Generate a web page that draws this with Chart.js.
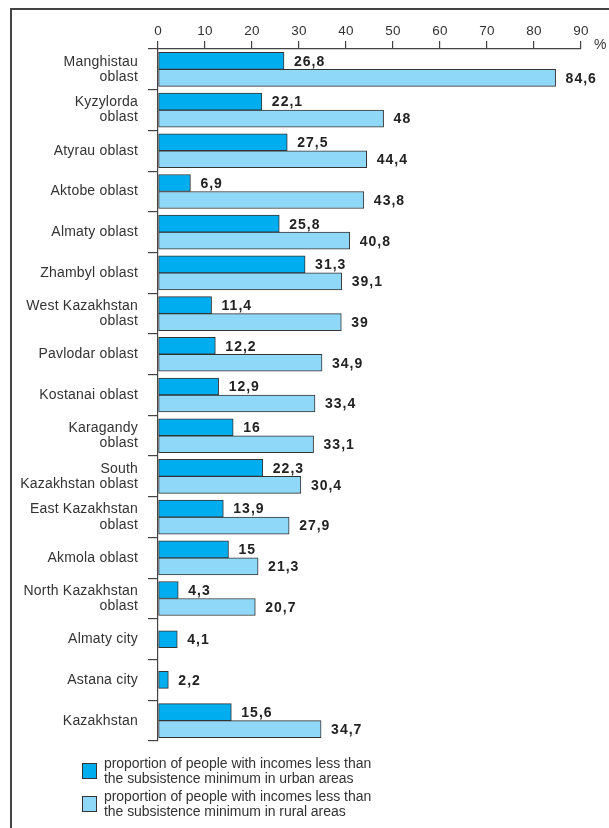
<!DOCTYPE html>
<html>
<head>
<meta charset="utf-8">
<script src="https://cdn.jsdelivr.net/npm/chart.js@4"></script>
<style>
  body { margin: 0; background: #fff; font-family: "Liberation Sans", Arial, sans-serif; }
  #wrap { position: relative; width: 609px; height: 828px; overflow: hidden; }
  #frame { position: absolute; left: 10px; top: 8px; width: 620px; height: 840px;
           border-top: 2px solid #444; border-left: 2px solid #444; }
  canvas { position: absolute; left: 0; top: 0; }
  .leg { position: absolute; left: 82px; font-size: 14px; line-height: 15px; color: #333; letter-spacing: -0.05px; }
  .leg .box { position: absolute; left: 0; width: 13px; height: 14px; border: 1px solid #333; }
  .leg .txt { position: absolute; left: 22px; top: 0; white-space: nowrap; }
</style>
</head>
<body>
<div id="wrap">
  <div id="frame"></div>
  <canvas id="chart" width="609" height="828"></canvas>
  <div class="leg" style="top:756px">
    <div class="box" style="top:7px;background:#00aeef"></div>
    <div class="txt">proportion of people with incomes less than<br>the subsistence minimum in urban areas</div>
  </div>
  <div class="leg" style="top:789px">
    <div class="box" style="top:7px;background:#8fd8f8"></div>
    <div class="txt">proportion of people with incomes less than<br>the subsistence minimum in rural areas</div>
  </div>
</div>
<script>
const regions = [
  ["Manghistau", "oblast"],
  ["Kyzylorda", "oblast"],
  "Atyrau oblast",
  "Aktobe oblast",
  "Almaty oblast",
  "Zhambyl oblast",
  ["West Kazakhstan", "oblast"],
  "Pavlodar oblast",
  "Kostanai oblast",
  ["Karagandy", "oblast"],
  ["South", "Kazakhstan oblast"],
  ["East Kazakhstan", "oblast"],
  "Akmola oblast",
  ["North Kazakhstan", "oblast"],
  "Almaty city",
  "Astana city",
  "Kazakhstan"
];
const urban = [26.8, 22.1, 27.5, 6.9, 25.8, 31.3, 11.4, 12.2, 12.9, 16, 22.3, 13.9, 15, 4.3, 4.1, 2.2, 15.6];
const rural = [84.6, 48, 44.4, 43.8, 40.8, 39.1, 39, 34.9, 33.4, 33.1, 30.4, 27.9, 21.3, 20.7, null, null, 34.7];
const xTicks = [0, 10, 20, 30, 40, 50, 60, 70, 80, 90];

const fmt = (v) => String(v).replace(".", ",");

// a little tracking on all the axis text, like the printed original
const spacingPlugin = {
  id: "spacing",
  beforeDraw(chart) { chart.ctx.letterSpacing = "0.2px"; }
};

// value labels next to the bars and the % unit sign
const labelPlugin = {
  id: "valueLabels",
  afterDatasetsDraw(chart) {
    const ctx = chart.ctx;
    ctx.save();
    ctx.font = "bold 14px 'Liberation Sans', Arial, sans-serif";
    ctx.letterSpacing = "1px";
    ctx.fillStyle = "#222";
    ctx.textBaseline = "middle";
    ctx.textAlign = "left";
    chart.data.datasets.forEach((ds, i) => {
      const meta = chart.getDatasetMeta(i);
      meta.data.forEach((bar, j) => {
        const v = ds.data[j];
        if (v === null) return;
        ctx.fillText(fmt(v), bar.x + 10, bar.y + 1);
      });
    });
    const xs = chart.scales.x;
    ctx.font = "14px 'Liberation Sans', Arial, sans-serif";
    ctx.letterSpacing = "0px";
    ctx.fillStyle = "#333";
    ctx.fillText("%", xs.getPixelForValue(90) + 13, xs.bottom - 4);
    ctx.restore();
  }
};

new Chart(document.getElementById("chart"), {
  type: "bar",
  data: {
    labels: regions,
    datasets: [
      {
        label: "urban",
        data: urban,
        backgroundColor: "#00aeef",
        borderColor: "#333",
        borderWidth: 1,
        borderSkipped: false,
        barThickness: 17,
        skipNull: true
      },
      {
        label: "rural",
        data: rural,
        backgroundColor: "#8fd8f8",
        borderColor: "#333",
        borderWidth: 1,
        borderSkipped: false,
        barThickness: 17,
        skipNull: true
      }
    ]
  },
  options: {
    indexAxis: "y",
    responsive: false,
    animation: false,
    layout: { padding: { left: 0, top: 0, right: 28, bottom: 87 } },
    plugins: {
      legend: { display: false },
      tooltip: { enabled: false }
    },
    scales: {
      x: {
        position: "top",
        min: 0,
        max: 90,
        afterBuildTicks: (s) => { s.ticks = xTicks.map((v) => ({ value: v })); },
        afterFit: (s) => { s.height = 49; },
        grid: { drawOnChartArea: false, tickLength: 8, color: "#444", lineWidth: 1.2 },
        border: { color: "#444", width: 1.2 },
        ticks: {
          color: "#333",
          padding: 2,
          font: { family: "'Liberation Sans', Arial, sans-serif", size: 13.5 }
        }
      },
      y: {
        afterFit: (s) => { s.width = 158; },
        grid: { drawOnChartArea: false, tickLength: 10, color: "#444", lineWidth: 1.2, offset: true },
        border: { color: "#444", width: 1.2 },
        ticks: {
          color: "#333",
          padding: 10,
          font: { family: "'Liberation Sans', Arial, sans-serif", size: 14, lineHeight: 1.08 }
        }
      }
    }
  },
  plugins: [spacingPlugin, labelPlugin]
});
</script>
</body>
</html>
